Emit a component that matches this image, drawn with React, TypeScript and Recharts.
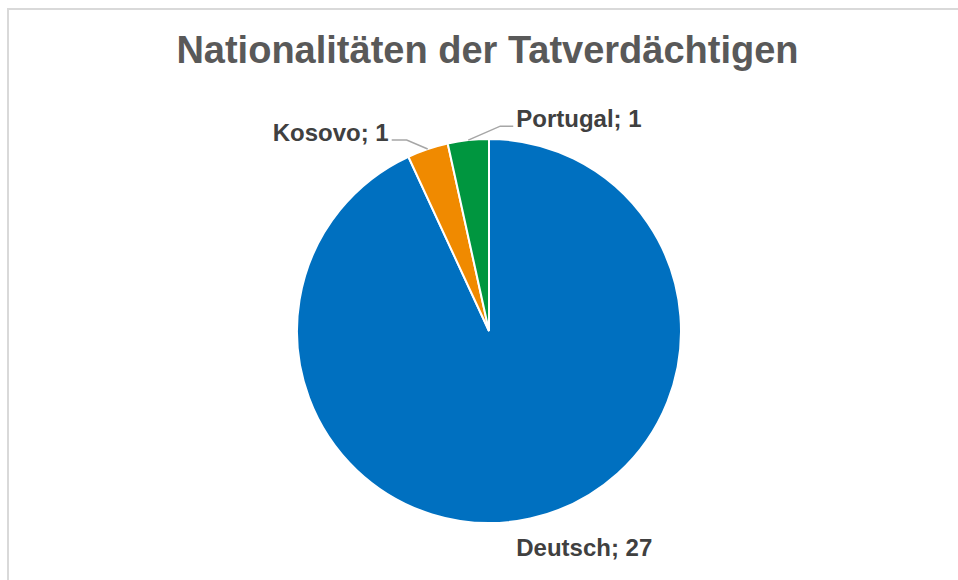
import { Cell, Pie, PieChart } from 'recharts';

const NATIONS = ['Deutsch', 'Kosovo', 'Portugal'];
const COUNTS = [27, 1, 1];
const COLORS = ['#0070c0', '#f08a00', '#00963f'];

// label placement per slice: elbow offset from the slice edge, then a short horizontal run
const LABEL_POS = [
  { dx: 54, dy: 29, run: 0, line: false },
  { dx: -21, dy: -9, run: -15, line: true },
  { dx: 32, dy: -14, run: 13, line: true },
];

const RAD = Math.PI / 180;
const FONT = '"Liberation Sans", Arial, sans-serif';

const data = NATIONS.map((name, i) => ({ name, value: COUNTS[i] }));

function renderLabel(props: any) {
  const { cx, cy, midAngle, outerRadius, index, name, value } = props;
  const pos = LABEL_POS[index];
  const ex = cx + outerRadius * Math.cos(midAngle * RAD);
  const ey = cy - outerRadius * Math.sin(midAngle * RAD);
  const text = `${name}; ${value}`;
  const style = { fontFamily: FONT, fontWeight: 700, fontSize: 24, fill: '#404040' };

  if (!pos.line) {
    return (
      <text x={ex + pos.dx} y={ey + pos.dy} textAnchor="middle" dominantBaseline="central" style={style}>
        {text}
      </text>
    );
  }
  const bx = ex + pos.dx;
  const by = ey + pos.dy;
  const tx = bx + pos.run;
  const left = pos.run < 0;
  return (
    <g>
      <polyline
        points={`${ex},${ey} ${bx},${by} ${tx},${by}`}
        fill="none"
        stroke="#a6a6a6"
        strokeWidth={1.5}
      />
      <text x={tx + (left ? -3 : 3)} y={by + 1} textAnchor={left ? 'end' : 'start'} style={style}>
        {text}
      </text>
    </g>
  );
}

export default function App() {
  return (
    <div
      style={{
        position: 'absolute',
        left: 0,
        top: 0,
        width: 958,
        height: 580,
        overflow: 'hidden',
        background: '#fff',
      }}
    >
      <div
        style={{
          position: 'absolute',
          left: 7,
          top: 8,
          width: 1200,
          height: 900,
          borderTop: '2px solid #d9d9d9',
          borderLeft: '2px solid #d9d9d9',
        }}
      />
      <div
        style={{
          position: 'absolute',
          left: 0,
          top: 28,
          width: 975,
          textAlign: 'center',
          fontFamily: FONT,
          fontWeight: 700,
          fontSize: 38,
          lineHeight: '44px',
          color: '#595959',
        }}
      >
        Nationalitäten der Tatverdächtigen
      </div>
      <div style={{ position: 'absolute', left: 0, top: 0 }}>
        <PieChart width={958} height={580}>
          <Pie
            data={data}
            dataKey="value"
            nameKey="name"
            cx={484}
            cy={326}
            outerRadius={192}
            startAngle={90}
            endAngle={-270}
            stroke="#ffffff"
            strokeWidth={2}
            label={renderLabel}
            labelLine={false}
            isAnimationActive={false}
          >
            {data.map((d, i) => (
              <Cell key={d.name} fill={COLORS[i]} />
            ))}
          </Pie>
        </PieChart>
      </div>
    </div>
  );
}
